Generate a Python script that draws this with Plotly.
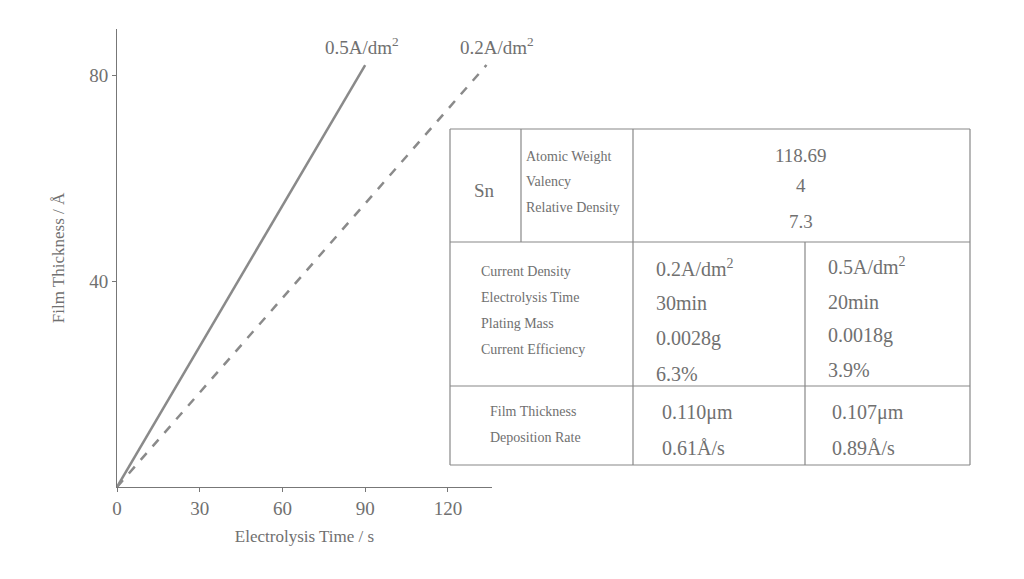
import plotly.graph_objects as go

time_05 = [0, 90]
thick_05 = [0, 82]
time_02 = [0, 134]
thick_02 = [0, 82]
x_ticks = [0, 30, 60, 90, 120]
y_ticks = [40, 80]

C = "#707070"
F = "Liberation Serif, DejaVu Serif, serif"

fig = go.Figure()
fig.add_trace(go.Scatter(x=time_05, y=thick_05, mode="lines", line=dict(color="#8a8a8a", width=2.5)))
fig.add_trace(go.Scatter(x=time_02, y=thick_02, mode="lines", line=dict(color="#8a8a8a", width=2.5, dash="dash")))

L, R, T, B = 117, 492, 29, 487
OFF = 8
def px(x): return (x - L) / (R - L)
def py(y): return (B - y) / (B - T)

shapes = []
def line(x0, y0, x1, y1):
    shapes.append(dict(type="line", xref="paper", yref="paper", x0=px(x0), y0=py(y0), x1=px(x1), y1=py(y1),
                       line=dict(color="#888", width=1.2)))
line(450, 129, 970, 129); line(450, 465, 970, 465)
line(450, 129, 450, 465); line(970, 129, 970, 465)
line(450, 242, 970, 242); line(450, 386, 970, 386)
line(521, 129, 521, 242); line(633, 129, 633, 465); line(805, 242, 805, 465)

anns = []
def txt(x, y, s, size, anchor="left"):
    anns.append(dict(xref="paper", yref="paper", x=px(x), y=py(y), text=s, showarrow=False,
                     xanchor=anchor, yanchor="middle", font=dict(family=F, size=size, color=C)))
txt(362, 46, "0.5A/dm<sup>2</sup>", 19, "center")
txt(497, 46, "0.2A/dm<sup>2</sup>", 19, "center")
txt(484, 190, "Sn", 19, "center")
txt(524, 156, "Atomic Weight", 14); txt(524, 181, "Valency", 14); txt(524, 207, "Relative Density", 14)
txt(801, 155, "118.69", 19, "center"); txt(801, 186, "4", 19, "center"); txt(801, 221, "7.3", 19, "center")
for i, s in enumerate(["Current Density", "Electrolysis Time", "Plating Mass", "Current Efficiency"]):
    txt(479, 271 + i * 26, s, 14)
for i, s in enumerate(["0.2A/dm<sup>2</sup>", "30min", "0.0028g", "6.3%"]):
    txt(654, [268, 303, 338, 374][i], s, 20)
for i, s in enumerate(["0.5A/dm<sup>2</sup>", "20min", "0.0018g", "3.9%"]):
    txt(826, [266, 302, 335, 370][i], s, 20)
txt(488, 411, "Film Thickness", 14); txt(488, 437, "Deposition Rate", 14)
txt(660, 412, "0.110μm", 20); txt(660, 448, "0.61Å/s", 20)
txt(830, 412, "0.107μm", 20); txt(830, 448, "0.89Å/s", 20)

fig.update_layout(
    width=1024, height=579, showlegend=False, plot_bgcolor="white", paper_bgcolor="white",
    margin=dict(l=L - OFF, r=1024 - R + OFF, t=T - OFF, b=579 - B + OFF),
    shapes=shapes, annotations=anns,
    font=dict(family=F, color=C),
    xaxis=dict(range=[0, 136], tickvals=x_ticks, showgrid=False, zeroline=False, showline=True,
               linecolor="#777", ticks="outside", ticklen=4, tickcolor="#777",
               tickfont=dict(size=19, family=F, color=C),
               title=dict(text="Electrolysis Time / s", font=dict(size=17, family=F, color=C), standoff=12)),
    yaxis=dict(range=[0, 89], tickvals=y_ticks, showgrid=False, zeroline=False, showline=True,
               linecolor="#777", ticks="outside", ticklen=4, tickcolor="#777",
               tickfont=dict(size=19, family=F, color=C),
               title=dict(text="Film Thickness / Å", font=dict(size=17, family=F, color=C), standoff=20)),
)
fig.write_html("out.html")
